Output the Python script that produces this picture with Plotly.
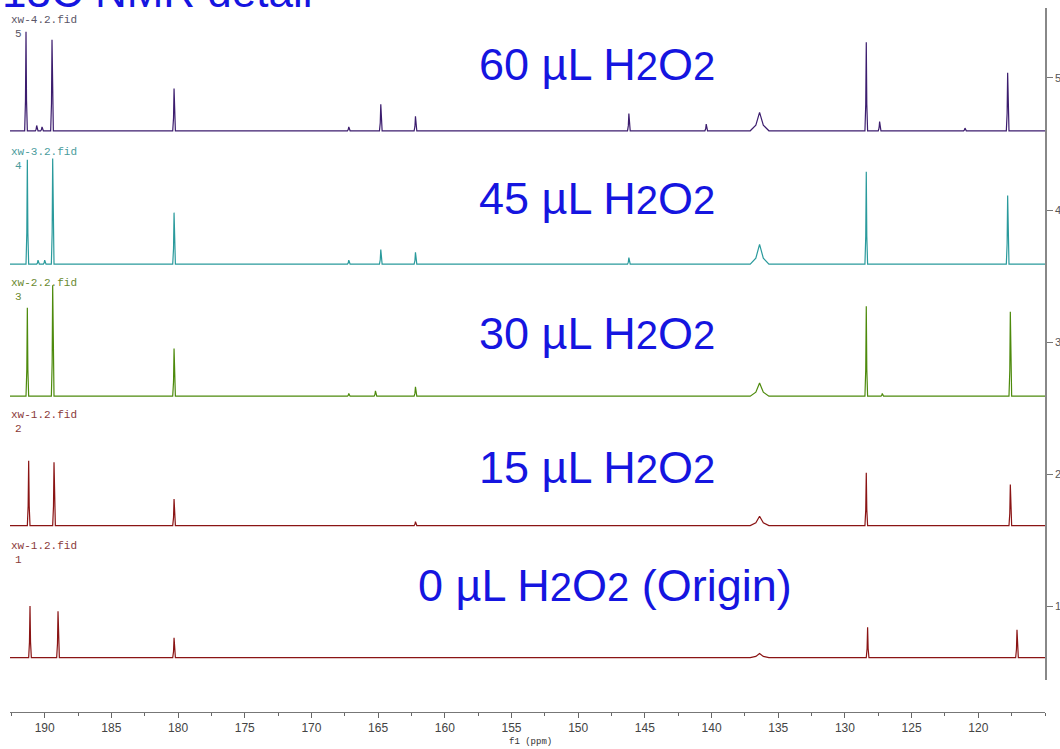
import plotly.graph_objects as go

# ---------------- data ----------------
ppm_range = [192.6, 115.0]
major_ticks = [190, 185, 180, 175, 170, 165, 160, 155, 150, 145, 140, 135, 130, 125, 120]
stack_ticks = [1, 2, 3, 4, 5]

trace_ids = [1, 2, 3, 4, 5]
file_labels = ["xw-1.2.fid", "xw-1.2.fid", "xw-2.2.fid", "xw-3.2.fid", "xw-4.2.fid"]
sample_labels = ["0 µL H2O2 (Origin)", "15 µL H2O2", "30 µL H2O2", "45 µL H2O2", "60 µL H2O2"]
baseline_offsets = [0.61, 1.61, 2.59, 3.59, 4.60]

# peak lists: position (ppm), intensity (stack units), half base width (ppm)
t1_ppm = [191.1, 189.0, 180.3, 136.4, 128.3, 117.1]
t1_int = [0.39, 0.35, 0.15, 0.03, 0.23, 0.21]
t1_wid = [0.10, 0.10, 0.10, 0.70, 0.10, 0.10]

t2_ppm = [191.2, 189.3, 180.3, 162.2, 136.4, 128.4, 117.6]
t2_int = [0.49, 0.48, 0.20, 0.03, 0.07, 0.40, 0.31]
t2_wid = [0.10, 0.10, 0.10, 0.10, 0.70, 0.10, 0.10]

t3_ppm = [191.3, 189.4, 180.3, 167.2, 165.2, 162.2, 136.4, 128.4, 127.2, 117.6]
t3_int = [0.67, 0.84, 0.36, 0.02, 0.04, 0.07, 0.10, 0.68, 0.02, 0.64]
t3_wid = [0.10, 0.10, 0.10, 0.10, 0.10, 0.10, 0.70, 0.10, 0.10, 0.10]

t4_ppm = [191.3, 190.5, 190.0, 189.4, 180.3, 167.2, 164.8, 162.2, 146.2, 136.4, 128.4, 117.8]
t4_int = [0.79, 0.03, 0.03, 0.80, 0.39, 0.03, 0.11, 0.09, 0.05, 0.15, 0.70, 0.52]
t4_wid = [0.10, 0.10, 0.10, 0.10, 0.10, 0.10, 0.10, 0.10, 0.10, 0.70, 0.10, 0.10]

t5_ppm = [191.4, 190.6, 190.2, 189.45, 180.3, 167.2, 164.8, 162.2, 146.2, 140.4, 136.4, 128.4, 127.4, 121.0, 117.8]
t5_int = [0.75, 0.04, 0.03, 0.69, 0.32, 0.03, 0.20, 0.11, 0.13, 0.05, 0.14, 0.67, 0.07, 0.02, 0.44]
t5_wid = [0.10, 0.10, 0.10, 0.10, 0.10, 0.10, 0.10, 0.10, 0.10, 0.10, 0.70, 0.10, 0.10, 0.10, 0.10]

peak_ppm = [t1_ppm, t2_ppm, t3_ppm, t4_ppm, t5_ppm]
peak_int = [t1_int, t2_int, t3_int, t4_int, t5_int]
peak_wid = [t1_wid, t2_wid, t3_wid, t4_wid, t5_wid]

# ---------------- styles ----------------
line_colors = ["#8a1414", "#8a1414", "#4d8a0c", "#2a9a9c", "#3c1d6e"]
label_colors = ["#8a3a3a", "#8a3a3a", "#6a8a30", "#4a9c9c", "#5a5566"]
blue = "#1515e0"

W, H = 1060, 749
L, R, T, B = 10, 15, 8, 37
PW, PH = W - L - R, H - T - B


def px(xp):
    return (xp - L) / PW


def py(yp):
    return (H - B - yp) / PH


fig = go.Figure()

for k in range(5):
    base = baseline_offsets[k]
    pts = sorted(zip(peak_ppm[k], peak_int[k], peak_wid[k]), key=lambda t: -t[0])
    xs = [ppm_range[0]]
    ys = [base]
    for p, h, w in pts:
        xs += [p + w, p + 0.4 * w, p, p - 0.4 * w, p - w]
        ys += [base, base + 0.3 * h, base + h, base + 0.3 * h, base]
    xs.append(ppm_range[1])
    ys.append(base)
    fig.add_trace(go.Scatter(x=xs, y=ys, mode="lines",
                             line=dict(color=line_colors[k], width=1.2),
                             hoverinfo="skip", showlegend=False))

annotations = []

# file labels and trace numbers
for k in range(5):
    ly = 546 - 131.5 * k
    annotations.append(dict(text=file_labels[k], xref="paper", yref="paper",
                            x=px(9), y=py(ly), xanchor="left", yanchor="middle",
                            showarrow=False,
                            font=dict(family="Liberation Mono", size=11, color=label_colors[k])))
    annotations.append(dict(text=str(trace_ids[k]), xref="paper", yref="paper",
                            x=px(13), y=py(ly + 14), xanchor="left", yanchor="middle",
                            showarrow=False,
                            font=dict(family="Liberation Mono", size=11, color=label_colors[k])))

# big blue sample labels
sample_centers = [(605, 585), (597, 468), (597, 333), (597, 198), (597, 64)]
for k in range(5):
    t = sample_labels[k].replace("H2O2", "H<span style='font-size:40px'>2</span>O<span style='font-size:40px'>2</span>")
    cx, cy = sample_centers[k]
    annotations.append(dict(text=t, xref="paper", yref="paper",
                            x=px(cx), y=py(cy), xanchor="center", yanchor="middle",
                            showarrow=False,
                            font=dict(family="Liberation Sans", size=45, color=blue)))

# clipped title at top
annotations.append(dict(text="13C NMR detail", xref="paper", yref="paper",
                        x=px(0), y=py(18), xanchor="left", yanchor="bottom",
                        showarrow=False,
                        font=dict(family="Liberation Sans", size=44, color=blue)))

# x axis title
annotations.append(dict(text="f1 (ppm)", xref="paper", yref="paper",
                        x=px(530), y=py(742), xanchor="center", yanchor="middle",
                        showarrow=False,
                        font=dict(family="Liberation Mono", size=9, color="#333333")))

fig.update_layout(
    width=W, height=H,
    margin=dict(l=L, r=R, t=T, b=B, autoexpand=False),
    paper_bgcolor="white", plot_bgcolor="white",
    annotations=annotations,
    xaxis=dict(range=ppm_range, tickvals=major_ticks, ticks="outside", ticklen=5,
               tickcolor="#666666", tickwidth=1, showline=True, linecolor="#777777",
               linewidth=1, showgrid=False, zeroline=False, anchor="free", position=0,
               tickfont=dict(family="Liberation Sans", size=12, color="#444444"),
               minor=dict(dtick=2.5, tick0=0, ticks="outside", ticklen=3, tickcolor="#666666"),
               automargin=False),
    yaxis=dict(range=[0.44, 5.53], domain=[(H - B - 680) / PH, 1], side="right",
               tickvals=stack_ticks, ticks="outside", ticklen=6, tickcolor="#777777",
               showline=True, linecolor="#888888", linewidth=1.5, showgrid=False,
               zeroline=False, tickfont=dict(family="Liberation Sans", size=11, color="#555555"),
               automargin=False),
)

fig.write_html("out.html")
